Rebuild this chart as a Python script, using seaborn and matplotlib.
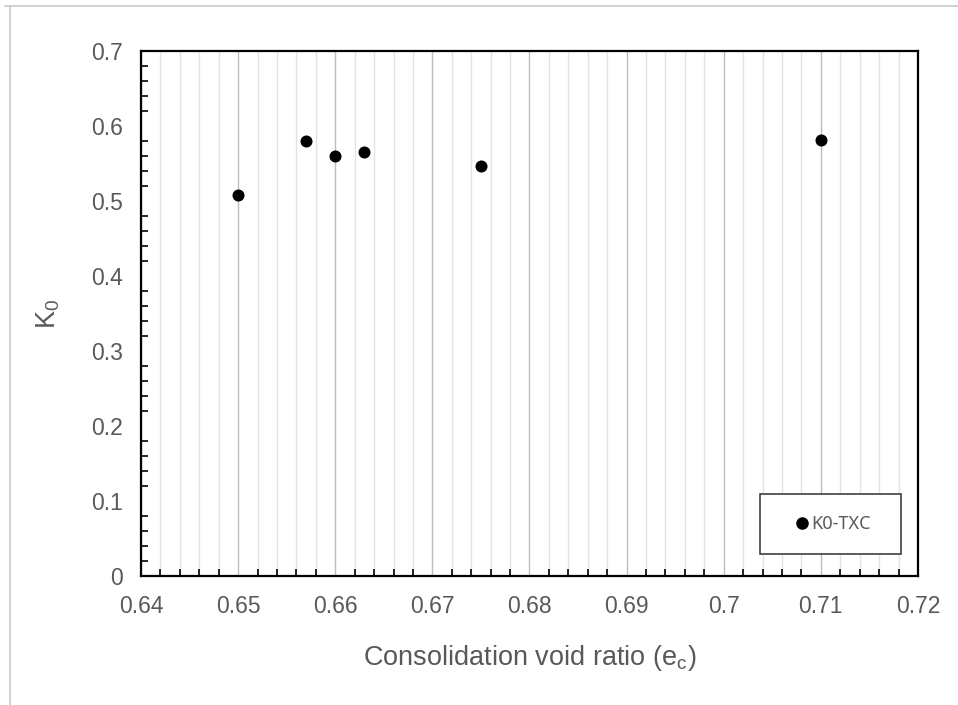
import numpy as np
import matplotlib
matplotlib.use("Agg")
import matplotlib.pyplot as plt
import seaborn as sns
import pandas as pd
from matplotlib.lines import Line2D
from matplotlib.patches import Rectangle
from matplotlib.ticker import MultipleLocator

# data
void_ratio = [0.650, 0.657, 0.660, 0.663, 0.675, 0.710]
k0_values = [0.508, 0.580, 0.560, 0.565, 0.547, 0.581]
series_name = "K0-TXC"

x_ticks = [0.64, 0.65, 0.66, 0.67, 0.68, 0.69, 0.70, 0.71, 0.72]
x_tick_labels = ["0.64", "0.65", "0.66", "0.67", "0.68", "0.69", "0.7", "0.71", "0.72"]
y_ticks = [0.0, 0.1, 0.2, 0.3, 0.4, 0.5, 0.6, 0.7]
y_tick_labels = ["0", "0.1", "0.2", "0.3", "0.4", "0.5", "0.6", "0.7"]

df = pd.DataFrame({"e_c": void_ratio, "K0": k0_values, "series": series_name})

sns.set_style("white")
plt.rcParams["font.family"] = ["Liberation Sans", "DejaVu Sans"]
plt.rcParams["mathtext.fontset"] = "custom"
plt.rcParams["mathtext.rm"] = "Liberation Sans"
plt.rcParams["mathtext.it"] = "Liberation Sans"

text_grey = "#595959"

fig = plt.figure(figsize=(9.58, 7.05), dpi=100)
ax = fig.add_axes([0.1472, 0.1830, 0.9582 - 0.1472, 0.9277 - 0.1830])

# minor / major vertical gridlines
ax.xaxis.set_minor_locator(MultipleLocator(0.002))
ax.yaxis.set_minor_locator(MultipleLocator(0.02))
ax.grid(which="minor", axis="x", color="#e3e3e3", linewidth=1.0)
ax.grid(which="major", axis="x", color="#bdbdbd", linewidth=1.0)
ax.grid(which="both", axis="y", visible=False)
ax.set_axisbelow(True)

sns.scatterplot(data=df, x="e_c", y="K0", ax=ax, color="black", s=75,
                edgecolor="black", linewidth=0, legend=False, zorder=3)

ax.set_xlim(0.64, 0.72)
ax.set_ylim(0, 0.7)
ax.set_xticks(x_ticks)
ax.set_xticklabels(x_tick_labels)
ax.set_yticks(y_ticks)
ax.set_yticklabels(y_tick_labels)

for side in ["left", "bottom", "right", "top"]:
    ax.spines[side].set_visible(True)
    ax.spines[side].set_color("black")
    ax.spines[side].set_linewidth(1.6)

ax.tick_params(axis="both", which="major", direction="in", length=0,
               labelsize=16.5, labelcolor=text_grey)
ax.tick_params(axis="x", which="major", pad=14)
ax.tick_params(axis="y", which="major", pad=13)
ax.tick_params(axis="x", which="minor", direction="in", length=5, width=1.2,
               color="black", bottom=True)
ax.tick_params(axis="y", which="minor", direction="in", length=5, width=1.2,
               color="black", left=True)

ax.set_xlabel("Consolidation void ratio (e$_\\mathregular{c}$)", fontsize=19.5,
              color=text_grey, labelpad=18)
ax.set_ylabel("K$_\\mathregular{0}$", fontsize=19.5, color=text_grey, labelpad=21)

# legend box (drawn separately so the padding can be uneven, like the original)
ax.add_patch(Rectangle((0.7967, 0.0419), 0.9781 - 0.7967, 0.1562 - 0.0419,
                       transform=ax.transAxes, facecolor="white",
                       edgecolor="#404040", linewidth=1.2, zorder=4))
handle = Line2D([], [], marker="o", linestyle="none", color="black",
                markersize=8)
leg = ax.legend([handle], [series_name], loc="center left",
                bbox_to_anchor=(0.8417, 0.099), frameon=False,
                borderpad=0, handletextpad=0.1, borderaxespad=0,
                handlelength=0.8, prop={"family": "Noto Sans", "size": 13})
leg.set_zorder(5)
for t in leg.get_texts():
    t.set_color(text_grey)

# faint outer frame of the chart area
fig.add_artist(Line2D([5 / 958, 1], [1 - 6 / 705, 1 - 6 / 705],
                      color="#c8c8c8", linewidth=1.2))
fig.add_artist(Line2D([9.5 / 958, 9.5 / 958], [0, 1 - 6 / 705],
                      color="#c8c8c8", linewidth=1.2))

fig.savefig("out.png", dpi=100)
